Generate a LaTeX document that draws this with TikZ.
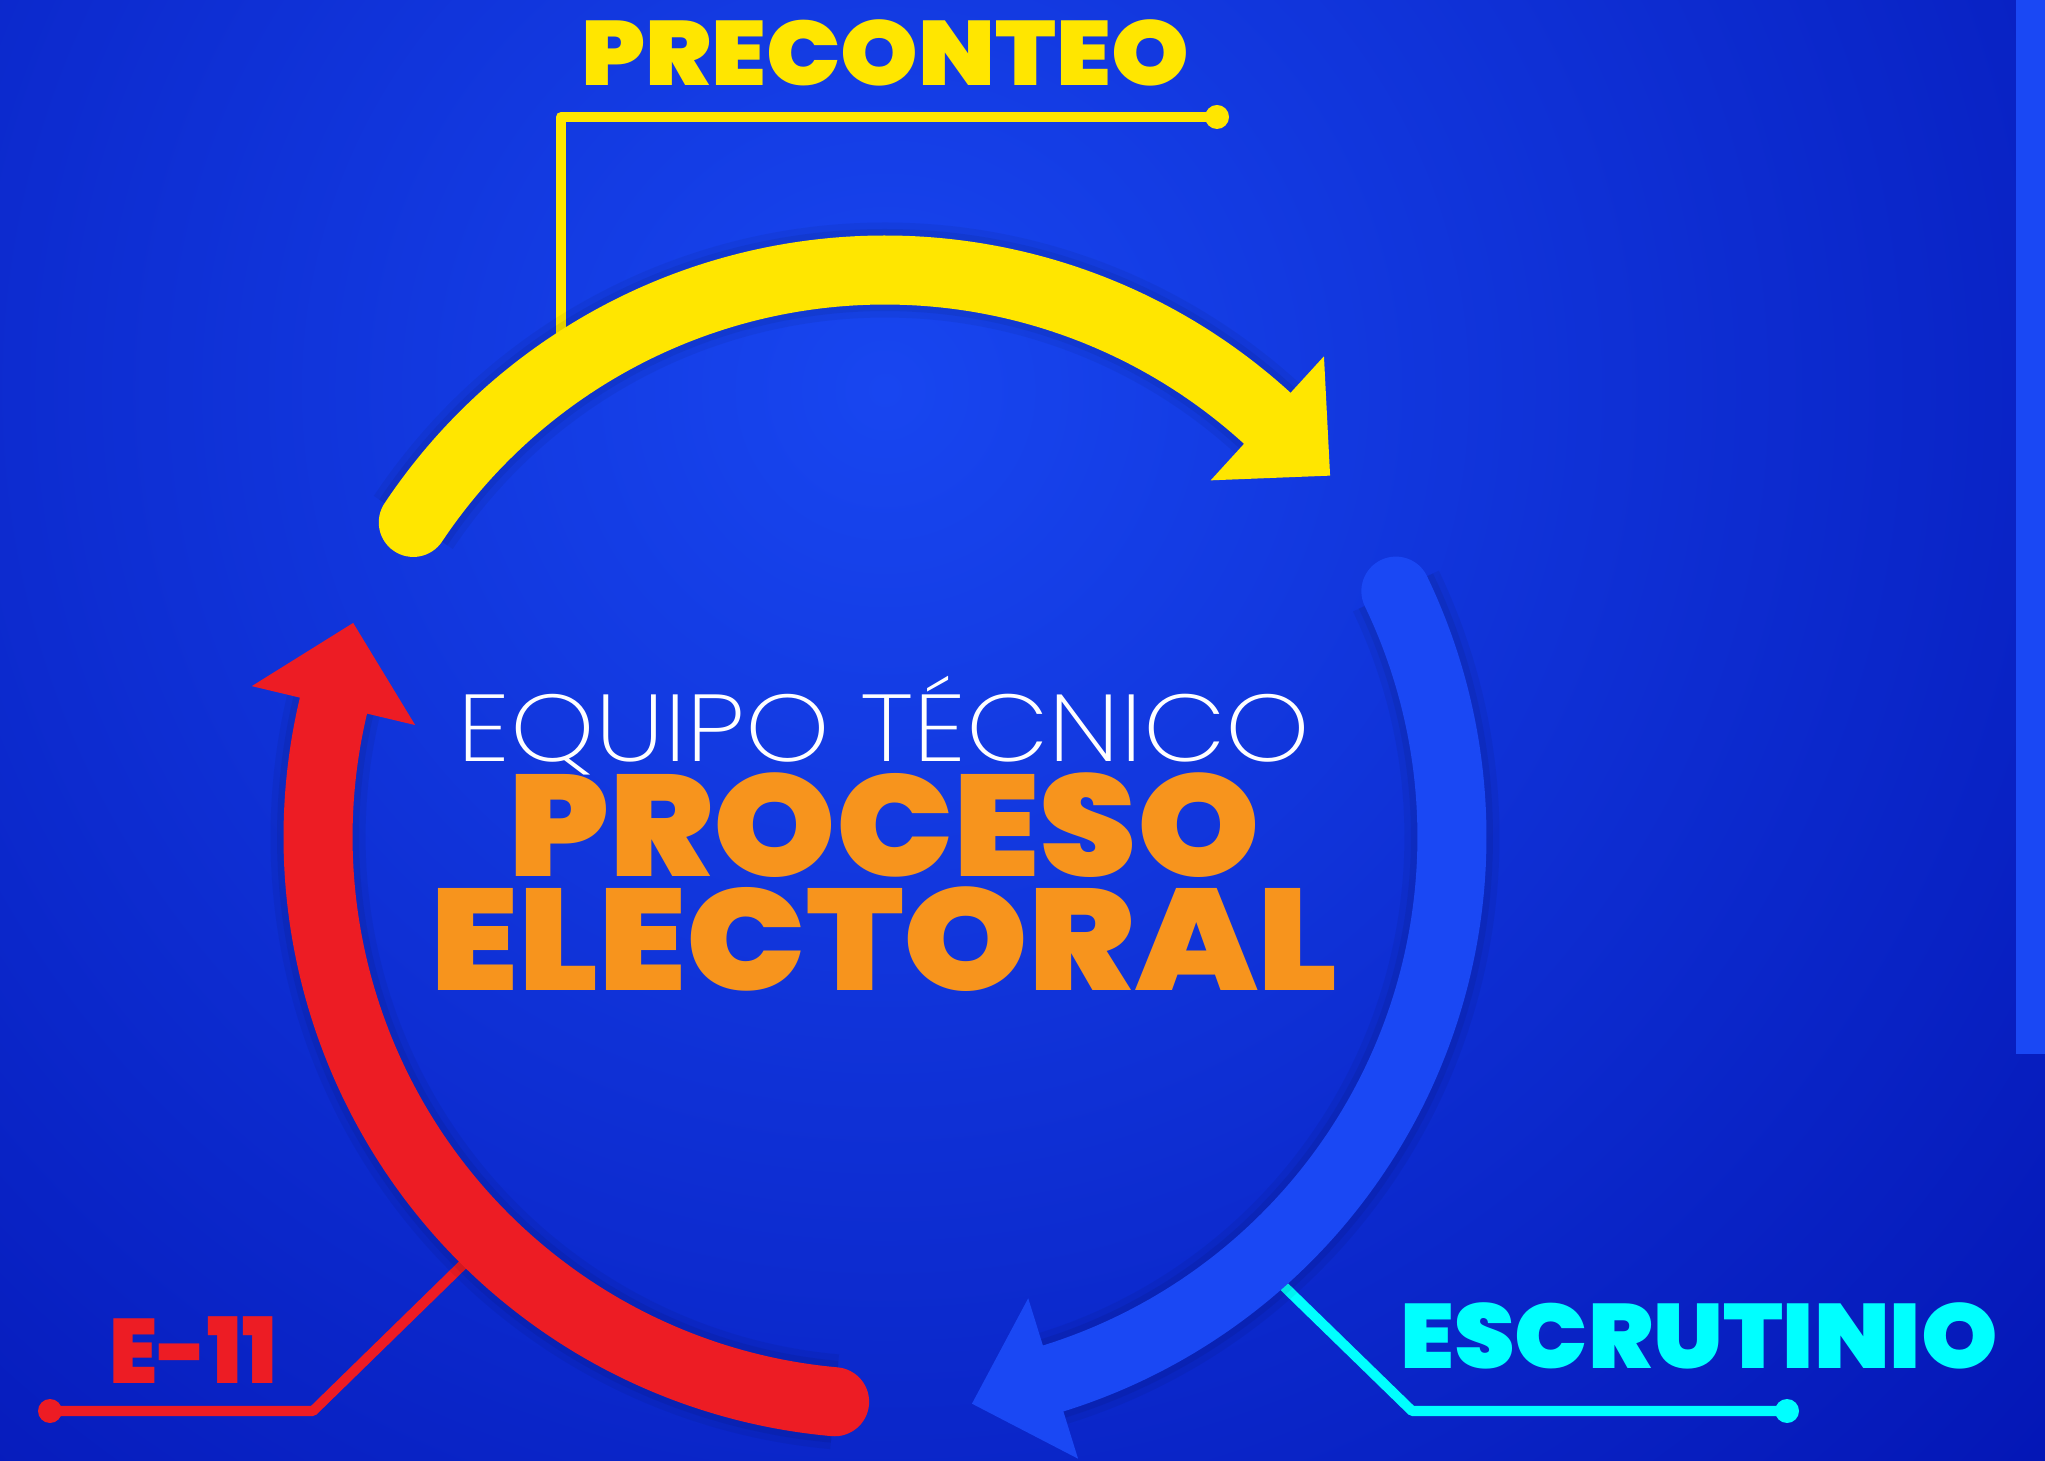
\documentclass[tikz,border=0pt]{standalone}
\usepackage{fontspec}
\setmainfont{Poppins}
\newfontfamily\heavy{Poppins Black}
\newfontfamily\thin{Poppins ExtraLight}
\usetikzlibrary{calc,positioning}
\definecolor{bgcore}{HTML}{1846F0}
\definecolor{bgedge}{HTML}{000DAA}
\definecolor{yel}{HTML}{FFE600}
\definecolor{redE}{HTML}{ED1C24}
\definecolor{arcblue}{HTML}{1A48F4}
\definecolor{cyanE}{HTML}{00FFFF}
\definecolor{orng}{HTML}{F7941D}
\tikzstyle{band} = [line width=0.69cm]
\tikzstyle{shadowA} = [line width=0.95cm, black, opacity=0.05]
\tikzstyle{shadowB} = [line width=0.82cm, black, opacity=0.06]
\tikzstyle{lead} = [line width=0.10cm, line join=round]
\tikzstyle{stage} = [anchor=base, inner sep=0pt, font=\heavy\fontsize{26}{26}\selectfont]
\tikzstyle{title} = [anchor=base, inner sep=0pt, text=orng, font=\heavy\fontsize{41}{41}\selectfont]

\begin{document}
\begin{tikzpicture}[x=0.01cm, y=0.01cm]
 \begin{scope}
  \clip (0,0) rectangle (2045,1460);
  \shade[inner color=bgcore, outer color=bgedge] (-1015,-830) rectangle (2785,2970);
 \end{scope}
 \useasboundingbox (0,0) rectangle (2045,1460);
 \fill[arcblue] (2016,406) rectangle (2045,1460);
 \coordinate (C) at (885,623);

 \coordinate (preconteo-in) at (561,1100);
 \coordinate (preconteo-bend) at (561,1343);
 \coordinate (preconteo-dot) at (1217,1343);
 \coordinate (e11-in) at (484,216);
 \coordinate (e11-bend) at (313,49);
 \coordinate (e11-dot) at (50,49);
 \coordinate (escrutinio-in) at (1263,194);
 \coordinate (escrutinio-bend) at (1412,49);
 \coordinate (escrutinio-dot) at (1787,49);
 \draw [lead, yel] (preconteo-in) -- (preconteo-bend) -- (preconteo-dot);
 \fill [yel] (preconteo-dot) circle (12);
 \draw [lead, redE] (e11-in) -- (e11-bend) -- (e11-dot);
 \fill [redE] (e11-dot) circle (12);
 \draw [lead, cyanE] (escrutinio-in) -- (escrutinio-bend) -- (escrutinio-dot);
 \fill [cyanE] (escrutinio-dot) circle (12);

 \draw [shadowA] (C) ++(146.3:567) arc (146.3:47.6:567);
 \draw [shadowB] (C) ++(146.3:567) arc (146.3:47.6:567);
 \draw [band, yel, line cap=round] (C) ++(146.3:567) arc (146.3:47.6:567);
 \fill [yel] ($(C)+(47.6:651)$) -- ($(C)+(47.6:483)$) -- ($(C)+(47.6:567)+(-42.4:85)$) -- cycle;

 \draw [shadowA] (C) ++(25.7:567) arc (25.7:-72.75:567);
 \draw [shadowB] (C) ++(25.7:567) arc (25.7:-72.75:567);
 \draw [band, arcblue, line cap=round] (C) ++(25.7:567) arc (25.7:-72.75:567);
 \fill [arcblue] ($(C)+(-72.75:651)$) -- ($(C)+(-72.75:483)$) -- ($(C)+(-72.75:567)+(-162.75:85)$) -- cycle;

 \draw [shadowA] (C) ++(264.9:567) arc (264.9:166.6:567);
 \draw [shadowB] (C) ++(264.9:567) arc (264.9:166.6:567);
 \draw [band, redE, line cap=round] (C) ++(264.9:567) arc (264.9:166.6:567);
 \fill [redE] ($(C)+(166.6:651)$) -- ($(C)+(166.6:483)$) -- ($(C)+(166.6:567)+(76.6:85)$) -- cycle;

 \node [stage, text=yel, xscale=1.08] (preconteo) at (885,1374) {PRECONTEO};
 \node [stage, text=redE, xscale=0.95] (e11) at (193,77) {E-11};
 \node [stage, text=cyanE, xscale=1.063] (escrutinio) at (1699,92) {ESCRUTINIO};
 \node [anchor=base, inner sep=0pt, text=white, xscale=1.13, font=\thin\fontsize{27}{27}\selectfont] (equipo) at (884,698) {EQUIPO TÉCNICO};
 \node [title, xscale=1.08] (proceso) at (884,583) {PROCESO};
 \node [title, xscale=1.10] (electoral) at (884,469) {ELECTORAL};
\end{tikzpicture}
\end{document}
